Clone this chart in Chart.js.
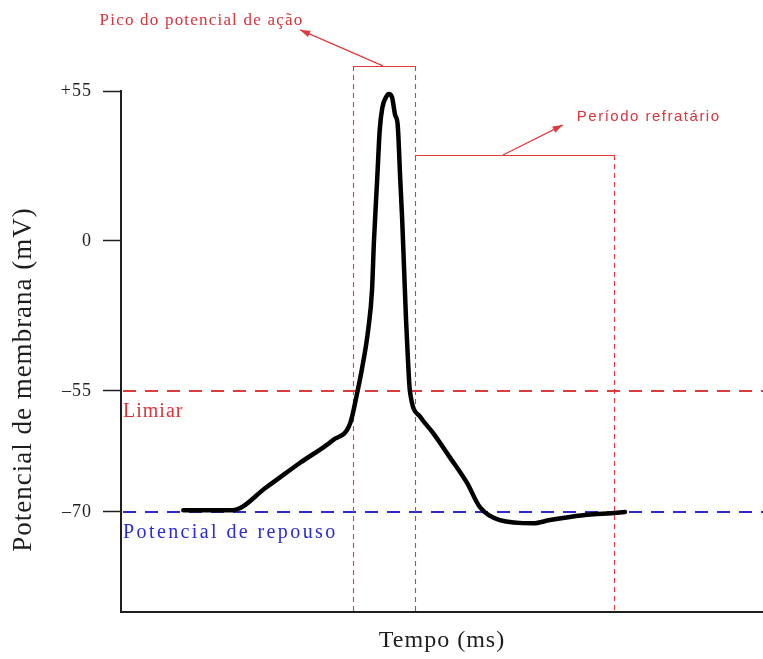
<!DOCTYPE html>
<html>
<head>
<meta charset="utf-8">
<script src="https://cdn.jsdelivr.net/npm/chart.js@4/dist/chart.umd.min.js"></script>
<style>
  html, body { margin: 0; padding: 0; background: #fff; }
  #wrap { width: 763px; height: 659px; position: relative; }
</style>
</head>
<body>
<div id="wrap"><canvas id="c"></canvas></div>
<script>
// ---- Data ----
const TIME_MS = [0.97, 1.73, 2.27, 2.79, 3.30, 3.57, 3.68, 3.75, 3.85, 3.91, 3.94, 3.99, 4.03, 4.07, 4.13, 4.17,
                 4.22, 4.27, 4.31, 4.35, 4.38, 4.41, 4.44, 4.47, 4.50, 4.66, 4.86, 5.12, 5.39, 5.59, 5.90, 6.42,
                 6.68, 7.20, 7.73, 7.85];
const VOLTAGE_MV = [-69.8, -69.8, -66.9, -63.9, -61.1, -59.0, -55.2, -47.3, -32.6, -18.0, 0, 22.4, 40.7, 48.8, 52.8, 53.9,
                    52.8, 46.2, 42.5, 22.4, 7.7, -10.6, -29.0, -43.6, -55.0, -58.2, -60.2, -63.2, -66.4, -69.4, -71.0, -71.4,
                    -71.0, -70.4, -70.1, -70.0];
const Y_TICK_VALUES = [55, 0, -55, -70];
const Y_TICK_LABELS = ['+55', '0', '–55', '–70'];
const THRESHOLD_MV = -55;
const REST_MV = -70;
const PHASE_EDGES_MS = [3.61, 4.58, 7.68];
const PEAK_BOX_TOP_MV = 64.2;
const REFRACTORY_BOX_TOP_MV = 31.5;
const LABEL_THRESHOLD = 'Limiar';
const LABEL_REST = 'Potencial de repouso';
const LABEL_PEAK = 'Pico do potencial de ação';
const LABEL_REFRACTORY = 'Período refratário';

// ---- Piecewise (schematic) voltage axis ----
const PX_PER_MV_UPPER = 150 / 55;
const PX_PER_MV_LOWER = 121 / 15;
function toU(mv) {
  return mv >= -55 ? mv * PX_PER_MV_UPPER : -150 - (-55 - mv) * PX_PER_MV_LOWER;
}
function fromU(u) {
  return u >= -150 ? u / PX_PER_MV_UPPER : -55 - (-150 - u) / PX_PER_MV_LOWER;
}
const Base = Chart.LinearScale || Chart.registry.getScale('linear');
class PiecewiseScale extends Base {
  determineDataLimits() {
    this.min = toU(this.options.min);
    this.max = toU(this.options.max);
  }
  buildTicks() { return Y_TICK_VALUES.map(v => ({ value: v })); }
  getPixelForValue(v) { return super.getPixelForValue(toU(v)); }
  getValueForPixel(p) { return fromU(super.getValueForPixel(p)); }
  drawTitle() {
    // the reference centres its axis title slightly below the plot's middle
    const t = this.top;
    this.top = t + 56;
    super.drawTitle();
    this.top = t;
  }
}
PiecewiseScale.id = 'piecewise';
PiecewiseScale.defaults = Base.defaults;
Chart.register(PiecewiseScale);

const RED = '#e03a3e';
const RED_TEXT = '#d8343c';
const BLUE = '#2b2bd6';
const INK = '#1e1e1e';

function arrow(ctx, x1, y1, x2, y2, color) {
  ctx.strokeStyle = color; ctx.fillStyle = color; ctx.lineWidth = 1.2; ctx.setLineDash([]);
  ctx.beginPath(); ctx.moveTo(x1, y1); ctx.lineTo(x2, y2); ctx.stroke();
  const ang = Math.atan2(y2 - y1, x2 - x1), L = 10, W = 3.5;
  ctx.beginPath();
  ctx.moveTo(x2, y2);
  ctx.lineTo(x2 - L * Math.cos(ang) + W * Math.sin(ang), y2 - L * Math.sin(ang) - W * Math.cos(ang));
  ctx.lineTo(x2 - L * Math.cos(ang) - W * Math.sin(ang), y2 - L * Math.sin(ang) + W * Math.cos(ang));
  ctx.closePath(); ctx.fill();
}

const annotations = {
  id: 'annotations',
  beforeDraw(chart) { chart.ctx.letterSpacing = '1px'; },
  beforeDatasetsDraw(chart) {
    const { ctx, chartArea: a, scales: { x, y } } = chart;
    ctx.save();
    // threshold & resting dashed lines
    [[THRESHOLD_MV, RED], [REST_MV, BLUE]].forEach(([mv, col]) => {
      const py = y.getPixelForValue(mv);
      ctx.strokeStyle = col; ctx.lineWidth = 2; ctx.setLineDash([13, 9]);
      ctx.beginPath(); ctx.moveTo(a.left + 2, py); ctx.lineTo(a.right, py); ctx.stroke();
    });
    // phase boxes: dashed verticals
    const tops = [PEAK_BOX_TOP_MV, PEAK_BOX_TOP_MV, REFRACTORY_BOX_TOP_MV];
    ctx.strokeStyle = '#e8343f'; ctx.lineWidth = 1.1; ctx.setLineDash([5, 4]);
    PHASE_EDGES_MS.forEach((t, i) => {
      const px = Math.round(x.getPixelForValue(t)) + 0.5;
      ctx.beginPath(); ctx.moveTo(px, y.getPixelForValue(tops[i])); ctx.lineTo(px, a.bottom); ctx.stroke();
    });
    // solid box tops
    ctx.setLineDash([]); ctx.strokeStyle = RED; ctx.lineWidth = 1.2;
    const yb1 = Math.round(y.getPixelForValue(PEAK_BOX_TOP_MV)) + 0.5;
    const yb2 = Math.round(y.getPixelForValue(REFRACTORY_BOX_TOP_MV)) + 0.5;
    ctx.beginPath();
    ctx.moveTo(x.getPixelForValue(PHASE_EDGES_MS[0]), yb1); ctx.lineTo(x.getPixelForValue(PHASE_EDGES_MS[1]) + 1, yb1);
    ctx.moveTo(x.getPixelForValue(PHASE_EDGES_MS[1]), yb2); ctx.lineTo(x.getPixelForValue(PHASE_EDGES_MS[2]) + 1, yb2);
    ctx.stroke();
    ctx.restore();
  },
  afterDraw(chart) {
    const { ctx, chartArea: a, scales: { x, y } } = chart;
    ctx.save();
    // arrows
    arrow(ctx, x.getPixelForValue(4.08), y.getPixelForValue(PEAK_BOX_TOP_MV),
               x.getPixelForValue(2.79), y.getPixelForValue(77.4), RED);
    arrow(ctx, x.getPixelForValue(5.95), y.getPixelForValue(REFRACTORY_BOX_TOP_MV),
               x.getPixelForValue(6.88), y.getPixelForValue(42.5), RED);
    ctx.textBaseline = 'middle';
    // labels
    ctx.fillStyle = RED_TEXT;
    ctx.font = '17px "Liberation Serif", "Times New Roman", serif';
    ctx.letterSpacing = '1.2px';
    ctx.textAlign = 'right';
    ctx.fillText(LABEL_PEAK, x.getPixelForValue(2.84), y.getPixelForValue(81.0));
    ctx.textAlign = 'left';
    ctx.font = '15px "Liberation Sans", Arial, sans-serif';
    ctx.letterSpacing = '1.5px';
    ctx.fillText(LABEL_REFRACTORY, x.getPixelForValue(7.10), y.getPixelForValue(45.5));
    ctx.font = '20px "Liberation Serif", "Times New Roman", serif';
    ctx.letterSpacing = '1px';
    ctx.fillText(LABEL_THRESHOLD, a.left + 2, y.getPixelForValue(-57.6));
    ctx.fillStyle = BLUE;
    ctx.letterSpacing = '2.4px';
    ctx.fillText(LABEL_REST, a.left + 2, y.getPixelForValue(-72.6));
    ctx.restore();
  }
};

const points = TIME_MS.map((t, i) => ({ x: t, y: VOLTAGE_MV[i] }));

new Chart(document.getElementById('c'), {
  type: 'line',
  data: {
    datasets: [{
      data: points,
      borderColor: '#000',
      borderWidth: 4.5,
      pointRadius: 0,
      fill: false,
      cubicInterpolationMode: 'monotone',
      borderCapStyle: 'round',
      borderJoinStyle: 'round'
    }]
  },
  options: {
    responsive: true,
    maintainAspectRatio: false,
    animation: false,
    events: [],
    layout: { padding: { top: 91, left: 0, right: 0, bottom: 0 } },
    plugins: { legend: { display: false }, tooltip: { enabled: false } },
    scales: {
      x: {
        type: 'linear',
        min: 0, max: 10,
        grid: { display: false },
        border: { display: true, color: INK, width: 2 },
        ticks: { display: false },
        title: {
          display: true, text: 'Tempo (ms)', color: INK,
          font: { family: '"Liberation Serif", "Times New Roman", serif', size: 24 },
          padding: { top: 0, bottom: 4 }
        },
        afterFit: s => { s.height = 47; }
      },
      y: {
        type: 'piecewise',
        min: -82.4, max: 55,
        grid: { display: true, drawOnChartArea: false, drawTicks: true, tickLength: 18, tickWidth: 1.5, tickColor: INK },
        border: { display: true, color: INK, width: 2 },
        ticks: {
          color: INK, padding: 11,
          font: { family: '"Liberation Serif", "Times New Roman", serif', size: 18 },
          callback: (v, i) => Y_TICK_LABELS[i]
        },
        title: {
          display: true, text: 'Potencial de membrana (mV)', color: INK,
          font: { family: '"Liberation Serif", "Times New Roman", serif', size: 27 },
          padding: { top: 8, bottom: 0 }
        },
        afterFit: s => { s.width = 121; }
      }
    }
  },
  plugins: [annotations]
});
</script>
</body>
</html>
